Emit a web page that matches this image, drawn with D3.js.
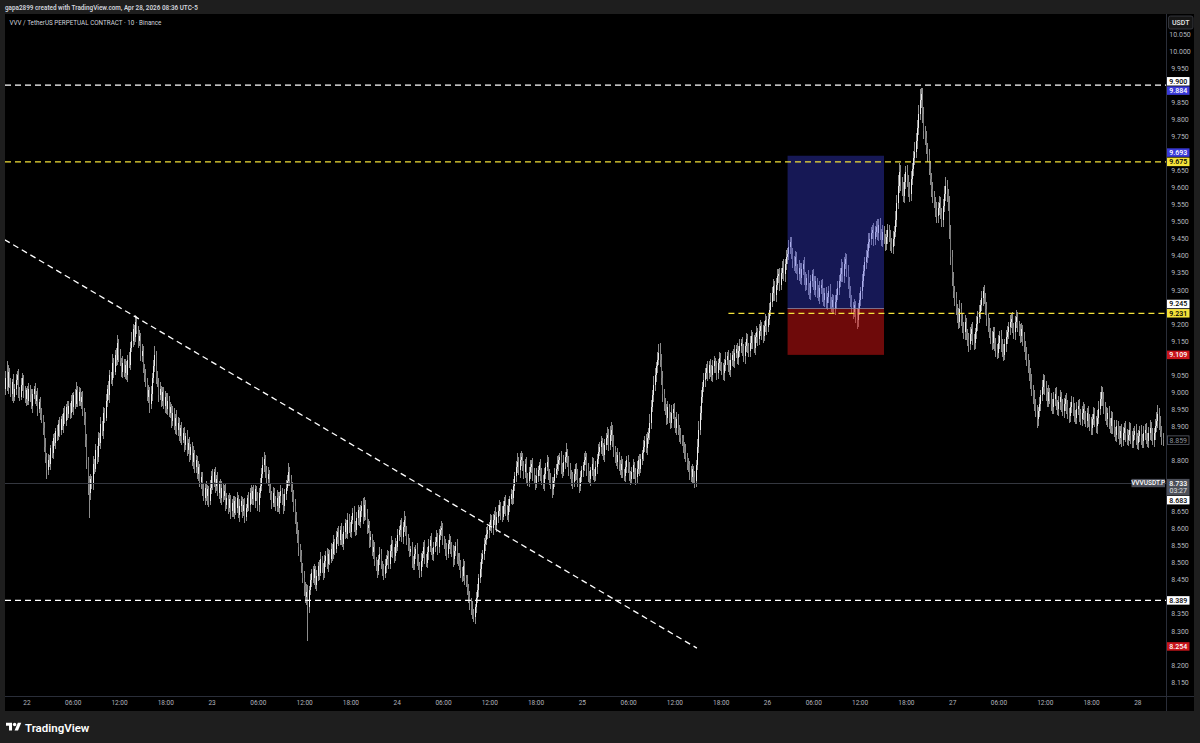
<!DOCTYPE html>
<html><head><meta charset="utf-8">
<script src="https://cdn.jsdelivr.net/npm/d3@7"></script>
<style>
html,body{margin:0;padding:0;background:#1e1e1e;overflow:hidden;}
svg{display:block;}
text{font-family:Roboto,"DejaVu Sans",sans-serif;}
</style></head>
<body>
<svg id="c" width="1200" height="743"></svg>
<script>
// ---------------- DATA ----------------
const symbolTitle = "VVV / TetherUS PERPETUAL CONTRACT · 10 · Binance";
const headerText = "gapa2899 created with TradingView.com, Apr 28, 2026 08:36 UTC-5";
const firstCandleTime = "2026-04-21T21:10:00Z";   // 10-minute candles
const candleMinutes = 10;
const priceBase = 8.000;        // closes: thousandths above this base
const wickTick = 0.0018;        // wick arrays: size in ticks of this amount
const firstOpen = 1000;
const closes = [
1010,1040,1015,1060,1025,995,1030,985,1010,1035,
1050,1005,985,1020,1040,1000,980,1005,975,1010,
990,960,995,1010,975,990,950,970,935,925,
895,840,810,770,800,790,835,820,865,850,
885,870,905,890,920,900,940,915,955,935,
960,940,975,955,990,965,1005,975,1000,970,
985,945,920,860,800,735,705,745,730,790,
775,830,810,865,850,905,885,940,925,975,
1010,990,1050,1035,1085,1060,1110,1095,1145,1110,
1090,1060,1085,1055,1080,1050,1095,1080,1130,1150,
1185,1160,1205,1180,1150,1165,1105,1120,1070,1050,
1030,985,1005,965,995,1040,1075,1110,1045,1030,
990,1010,975,1000,960,985,950,975,940,955,
915,940,900,925,890,910,870,895,860,880,
845,870,830,850,815,840,795,820,780,800,
760,780,735,750,710,690,720,695,715,680,
720,755,735,765,725,745,705,730,690,720,
695,710,670,690,660,685,650,675,645,680,
660,690,640,665,680,650,670,635,660,690,
670,705,685,710,680,715,690,670,705,725,
760,785,805,770,745,760,715,700,675,705,
685,665,690,660,695,710,680,665,700,720,
740,765,745,720,700,665,640,600,580,545,
520,490,455,430,400,415,370,420,450,470,
455,480,435,460,490,470,510,485,470,505,
520,495,525,510,540,525,560,540,575,590,
565,595,570,555,590,615,585,625,605,590,
625,645,610,595,630,655,620,650,665,635,
670,645,600,610,565,575,530,545,505,490,
475,510,525,495,480,465,490,510,520,495,
535,555,530,520,555,545,580,595,610,575,
605,625,590,570,555,530,540,505,495,525,
540,510,490,475,505,525,545,515,500,530,
550,565,535,525,545,560,575,545,580,595,
600,570,555,540,525,555,565,545,530,510,
535,550,515,505,490,475,460,490,455,445,
425,400,385,365,350,340,370,395,420,455,
480,510,525,555,565,585,595,610,625,600,
625,640,610,635,650,670,645,635,665,680,
655,640,665,685,700,690,725,755,780,795,
770,800,810,780,765,790,755,740,765,780,
790,760,745,730,755,770,785,760,745,730,
760,780,795,765,745,730,715,740,760,775,
790,800,810,780,765,795,810,825,795,775,
760,745,735,760,775,755,740,725,750,770,
785,800,810,775,755,745,770,790,765,755,
780,805,825,840,855,830,815,845,865,875,
845,875,890,855,830,810,795,815,785,770,
790,765,755,780,800,775,760,745,765,785,
760,750,775,800,775,805,820,840,855,835,
865,880,910,955,990,1020,1050,1075,1095,1115,
1095,1040,995,965,950,925,955,925,910,940,
950,915,895,920,890,875,865,855,840,825,
810,790,785,765,750,775,750,740,785,840,
890,940,985,1015,1035,1055,1070,1055,1080,1065,
1050,1075,1090,1070,1055,1085,1100,1080,1065,1055,
1080,1095,1105,1080,1065,1095,1110,1090,1115,1125,
1100,1120,1135,1145,1120,1105,1135,1155,1135,1120,
1145,1165,1145,1130,1160,1175,1155,1180,1195,1175,
1165,1195,1210,1190,1215,1240,1265,1290,1310,1285,
1315,1340,1345,1315,1350,1365,1345,1375,1395,1405,
1425,1440,1405,1385,1370,1395,1365,1345,1365,1335,
1360,1375,1335,1315,1335,1305,1290,1325,1345,1320,
1300,1325,1295,1280,1305,1315,1285,1270,1290,1260,
1280,1295,1265,1250,1270,1245,1265,1285,1305,1325,
1345,1365,1340,1375,1390,1355,1325,1295,1265,1250,
1235,1255,1225,1210,1245,1270,1295,1325,1355,1380,
1395,1415,1440,1450,1465,1475,1450,1470,1485,1465,
1490,1465,1445,1470,1450,1435,1455,1475,1455,1435,
1425,1450,1470,1505,1555,1605,1645,1615,1595,1575,
1615,1645,1620,1595,1580,1625,1655,1685,1705,1735,
1775,1815,1855,1875,1815,1765,1745,1715,1695,1655,
1625,1595,1575,1555,1535,1515,1540,1555,1525,1505,
1545,1580,1605,1580,1555,1475,1395,1335,1295,1275,
1245,1225,1205,1245,1215,1190,1175,1205,1170,1155,
1140,1170,1185,1155,1145,1175,1200,1220,1235,1255,
1275,1295,1275,1245,1215,1195,1175,1160,1145,1175,
1140,1125,1115,1145,1165,1140,1120,1110,1140,1160,
1175,1190,1205,1215,1190,1175,1205,1220,1195,1180,
1165,1185,1155,1135,1115,1095,1075,1055,1030,1005,
985,965,945,920,945,965,990,1015,1035,1010,
995,975,1000,980,965,955,980,995,965,950,
970,985,960,945,965,980,955,940,930,955,
970,950,935,925,950,960,935,920,940,950,
925,915,940,920,905,895,920,935,915,900,
925,950,980,1000,980,955,935,920,940,910,
900,925,895,885,875,900,880,865,885,860,
880,895,875,860,875,890,870,855,875,885,
865,850,870,885,865,855,880,890,865,855,
880,895,875,860,880,900,915,935,910,885,
865,859];
const wickUp = [
8,12,28,10,6,9,5,12,7,10, 6,9,5,12,8,6,10,4,7,9, 6,10,8,5,9,7,12,6,8,10,
5,9,14,6,10,8,5,12,7,9, 6,10,8,12,5,9,7,11,6,10, 8,5,9,12,6,10,14,7,9,6,
8,10,5,12,9,6,10,8,5,12, 7,9,6,10,8,12,5,9,7,10, 6,12,8,5,14,9,7,10,12,6,
9,5,11,7,10,6,8,12,9,14, 8,6,12,10,7,9,5,11,8,6, 10,7,9,5,12,8,10,14,6,9,
7,11,5,9,8,10,6,12,7,9, 5,10,8,6,12,9,7,5,10,8, 9,6,11,7,10,5,8,12,6,9,
7,10,5,9,8,12,6,10,7,5, 12,8,10,6,9,7,11,5,8,10, 6,9,12,7,5,10,8,6,11,9,
7,10,5,12,8,6,9,11,7,5, 10,8,12,6,9,7,5,10,8,12, 9,14,10,6,8,11,7,9,5,10,
8,6,12,9,7,10,5,11,8,12, 10,15,8,6,9,7,12,5,10,8, 6,9,5,11,8,12,10,7,9,6,
11,8,6,10,7,9,12,5,8,10, 7,12,9,6,10,8,11,5,9,7, 10,6,12,8,9,7,5,11,10,8,
6,9,12,7,10,8,5,11,9,14, 12,8,6,10,7,9,5,11,8,6, 10,7,12,9,5,8,11,6,10,7,
9,12,6,8,10,5,11,7,9,12, 8,14,6,10,7,9,5,11,8,12, 6,10,9,7,12,5,8,11,6,9,
10,7,12,5,9,8,11,6,10,7, 12,9,5,8,10,6,11,7,9,12, 8,5,10,7,12,9,6,11,8,5,
10,7,9,6,12,8,5,11,9,7, 12,10,6,9,8,11,7,5,10,8, 9,6,12,7,10,8,5,11,9,6,
10,8,12,5,9,7,11,6,10,14, 8,12,9,6,10,7,11,5,8,12, 6,9,10,7,12,8,5,11,9,6,
10,7,12,8,5,9,11,6,10,8, 12,9,6,10,7,11,8,14,5,9, 10,6,12,8,7,9,11,5,10,8,
6,12,9,7,10,8,5,11,9,6, 10,8,12,7,9,6,11,10,8,12, 9,14,12,7,10,6,8,11,5,9,
12,8,6,10,7,9,11,5,8,10, 6,9,12,7,10,8,5,11,9,12, 10,8,14,12,9,15,11,8,12,14,
16,9,12,7,10,8,11,6,9,12, 8,10,6,12,9,7,11,5,10,8, 12,6,9,7,10,8,5,11,9,12,
14,10,12,8,11,9,7,12,6,10, 8,11,9,6,12,7,10,8,5,11, 9,12,7,10,8,11,6,9,12,7,
10,8,11,6,9,12,7,10,8,5, 11,9,6,12,8,10,7,11,9,6, 12,8,10,7,9,11,14,10,12,8,
10,12,9,11,8,10,14,9,12,10, 12,8,8,10,7,11,9,6,12,8, 10,7,11,9,6,12,8,10,7,9,
11,8,6,10,12,7,9,11,8,10, 6,9,12,7,10,8,11,9,12,10, 11,14,9,12,10,8,10,7,9,11,
8,10,6,12,9,11,8,12,10,9, 12,10,14,9,11,8,12,10,9,13, 10,12,8,11,9,7,12,10,8,11,
9,12,10,14,12,18,15,11,9,12, 14,10,12,9,11,13,10,12,15,14, 12,15,18,10,10,12,9,11,8,10,
12,9,11,8,10,12,9,11,10,8, 12,14,15,10,9,11,8,12,10,9, 11,8,12,14,9,10,8,12,7,9,
10,12,8,11,9,7,12,10,11,8, 12,8,10,9,11,8,12,7,10,9, 8,11,9,12,7,10,8,11,9,12,
10,9,12,8,11,7,10,12,9,8, 11,9,7,12,8,10,9,11,8,12, 9,11,8,10,7,12,9,11,10,8,
12,9,11,7,10,8,12,9,11,7, 10,12,8,11,9,7,10,12,8,9, 11,8,10,7,12,9,11,8,10,12,
9,11,7,10,8,12,9,11,10,8, 12,14,11,10,8,12,9,11,7,10, 8,11,9,12,7,10,8,11,9,12,
10,8,11,9,7,12,10,8,11,9, 12,9,11,8,10,7,12,9,11,8, 10,12,9,11,8,12,14,15,10,11,
9,8];
const wickDown = [
7,10,6,12,8,5,11,9,6,10, 8,12,7,5,10,9,6,11,8,7, 10,6,12,8,5,9,11,7,10,8,
12,9,10,14,8,6,11,7,9,5, 10,8,6,12,9,7,11,5,8,10, 6,11,9,7,12,8,5,10,9,6,
11,8,10,12,15,20,42,12,8,10, 9,6,11,8,5,10,7,12,9,6, 10,8,12,7,9,11,6,10,8,12,
7,9,11,6,10,8,12,5,9,7, 10,12,8,6,11,9,7,10,8,12, 9,6,10,14,8,11,7,9,12,8,
10,7,11,9,6,12,8,10,7,9, 11,8,6,12,9,10,7,11,8,6, 12,9,10,7,11,8,6,12,9,10,
8,11,7,10,9,6,12,8,14,9, 7,10,12,8,11,9,6,10,8,12, 9,7,11,8,10,6,12,9,7,10,
11,8,6,12,9,10,7,11,8,6, 10,12,8,9,7,11,6,10,12,8, 9,7,10,12,8,11,6,9,10,7,
12,8,10,6,9,11,7,12,8,10, 6,9,11,8,12,10,15,9,12,14, 10,12,9,15,11,14,55,10,8,12,
9,11,7,10,8,12,6,9,11,8, 10,7,12,9,6,11,8,10,7,12, 9,8,11,6,10,12,7,9,11,8,
10,6,12,9,8,11,7,10,9,12, 8,11,9,7,12,10,6,11,8,9, 12,7,10,8,11,9,6,12,10,8,
7,11,9,12,8,10,6,9,11,8, 12,9,7,10,11,8,6,12,9,10, 8,11,7,12,9,10,6,11,8,9,
12,10,7,9,11,8,6,12,10,7, 9,11,8,12,10,6,9,11,7,12, 10,8,11,9,7,12,10,8,11,9,
12,10,14,11,9,8,12,10,7,11, 9,12,8,10,11,7,9,12,10,8, 11,9,7,12,10,8,11,9,6,12,
10,8,11,9,7,12,10,8,11,9, 8,12,10,7,11,9,12,8,10,11, 9,12,8,10,7,11,9,12,10,8,
11,9,7,12,10,8,14,9,11,7, 10,12,8,11,9,7,12,10,8,11, 9,12,10,8,11,7,10,12,9,8,
11,9,7,12,10,8,11,9,12,10, 8,11,9,7,12,10,8,11,9,12, 10,8,11,9,12,10,7,11,9,8,
12,10,8,11,9,7,12,10,8,11, 9,12,10,8,11,7,10,12,9,8, 11,9,12,10,8,11,9,12,10,8,
12,10,14,11,9,12,10,8,11,9, 10,12,8,11,9,12,10,8,11,12, 9,11,10,12,8,11,9,12,10,8,
11,9,12,10,8,11,9,12,10,11, 9,12,10,8,11,9,12,10,8,11, 12,10,9,11,8,12,10,9,11,8,
10,12,9,11,8,10,12,9,11,10, 9,11,10,8,12,9,11,10,8,12, 11,9,10,12,8,11,10,9,12,10,
11,9,12,10,8,11,10,12,9,11, 10,12,9,11,8,12,10,9,11,10, 12,9,11,10,8,12,9,11,10,12,
9,11,10,8,12,9,11,10,12,9, 11,10,12,9,11,8,10,12,9,11, 10,12,9,11,8,10,12,11,9,12,
11,9,12,14,10,11,9,12,10,8, 11,9,12,10,11,9,12,10,8,11, 12,10,9,11,8,12,10,11,9,12,
10,11,12,9,11,10,12,14,11,10, 12,11,10,13,12,11,10,12,11,10, 12,11,10,13,14,12,11,10,12,11,
10,12,11,9,12,10,11,12,10,11, 12,10,11,12,14,15,12,14,11,12, 10,12,11,9,12,10,11,12,10,11,
12,10,11,9,12,10,11,12,10,11, 9,12,10,11,12,10,9,11,12,10, 11,12,10,9,11,12,10,11,9,12,
10,11,12,9,10,11,12,10,11,9, 12,10,11,9,12,11,10,12,11,10, 11,12,10,14,11,10,12,9,11,10,
12,10,11,9,12,10,11,12,10,9, 11,12,10,9,11,12,10,11,12,10, 9,11,12,10,11,9,12,10,11,12,
10,9,11,12,10,11,12,9,10,11, 12,10,9,11,12,10,11,9,12,10, 11,12,10,9,11,12,10,11,9,12,
10,11,12,9,10,11,12,10,11,9, 12,10,11,9,12,10,11,12,10,9, 11,12,10,9,11,12,10,11,12,10,
11,9];

const priceTicks = [10.05,10.00,9.95,9.90,9.85,9.80,9.75,9.70,9.65,9.60,9.55,9.50,9.45,9.40,9.35,9.30,9.25,9.20,9.15,9.10,9.05,9.00,8.95,8.90,8.85,8.80,8.75,8.70,8.65,8.60,8.55,8.50,8.45,8.40,8.35,8.30,8.25,8.20,8.15];
const timeTickTimes = ["2026-04-22T00:00Z","2026-04-22T06:00Z","2026-04-22T12:00Z","2026-04-22T18:00Z",
"2026-04-23T00:00Z","2026-04-23T06:00Z","2026-04-23T12:00Z","2026-04-23T18:00Z",
"2026-04-24T00:00Z","2026-04-24T06:00Z","2026-04-24T12:00Z","2026-04-24T18:00Z",
"2026-04-25T00:00Z","2026-04-25T06:00Z","2026-04-25T12:00Z","2026-04-25T18:00Z",
"2026-04-26T00:00Z","2026-04-26T06:00Z","2026-04-26T12:00Z","2026-04-26T18:00Z",
"2026-04-27T00:00Z","2026-04-27T06:00Z","2026-04-27T12:00Z","2026-04-27T18:00Z",
"2026-04-28T00:00Z"];
const timeTickLabels = ["22","06:00","12:00","18:00","23","06:00","12:00","18:00","24","06:00","12:00","18:00","25","06:00","12:00","18:00","26","06:00","12:00","18:00","27","06:00","12:00","18:00","28"];

// horizontal drawings
const hLinePrices = [9.900, 9.675, 9.231, 8.389];
const hLineKinds  = ["white","yellow","yellow","white"];
const hLineStarts = [null, null, "2026-04-25T19:00Z", null];
// trend line
const trendTimes  = ["2026-04-21T21:10Z","2026-04-25T14:55Z"];
const trendPrices = [9.447, 8.249];
// long position tool
const posTimes = ["2026-04-26T02:40Z","2026-04-26T15:10Z"];
const posEntry = 9.245, posTarget = 9.693, posStop = 9.109;
// price-scale labels
const labelValues = [9.900, 9.884, 9.693, 9.675, 9.245, 9.231, 9.109, 8.683, 8.389, 8.254];
const labelKinds  = ["white","blue","blue","yellow","white","yellow","red","white","white","red"];
const lastPrice = 8.733, countdown = "03:27", tickerName = "VVVUSDT.P", currency = "USDT";

// ---------------- STYLES ----------------
const kindStyle = {
  white:{fill:"#ffffff", text:"#000000", line:"#ffffff"},
  yellow:{fill:"#f4e23a", text:"#000000", line:"#f4e23a"},
  blue:{fill:"#3a3ad8", text:"#ffffff"},
  red:{fill:"#c8151b", text:"#ffffff"}
};
const WICK = "#8c8c8c", UPBODY = "#eeeeee", DOWNBODY = "#7a7a7a";
const axisText = "#b2b5be";

// ---------------- DRAW ----------------
const svg = d3.select("#c");
svg.append("rect").attr("width",1200).attr("height",743).attr("fill","#1e1e1e");
svg.append("rect").attr("x",5).attr("y",14).attr("width",1189).attr("height",697).attr("fill","#000");

const PL = 5, PR = 1166, PT = 14, PB = 696;
const x = d3.scaleUtc()
  .domain([new Date("2026-04-22T00:00Z"), new Date("2026-04-28T00:00Z")])
  .range([26.4, 1137.3]);
const y = d3.scaleLinear().domain([8.15, 10.05]).range([681.9, 34]);

svg.append("defs").append("clipPath").attr("id","plotclip")
  .append("rect").attr("x",PL).attr("y",PT).attr("width",PR-PL).attr("height",PB-PT);
const plot = svg.append("g").attr("clip-path","url(#plotclip)");

// candles
const t0 = new Date(firstCandleTime).getTime();
const candles = closes.map((c,i)=>{
  const o = i===0 ? firstOpen : closes[i-1];
  const oP = priceBase + o/1000, cP = priceBase + c/1000;
  return {
    t: new Date(t0 + i*candleMinutes*60000),
    o: oP, c: cP,
    h: Math.max(oP,cP) + wickUp[i]*wickTick,
    l: Math.min(oP,cP) - wickDown[i]*wickTick
  };
});
const cg = plot.append("g").attr("shape-rendering","crispEdges");
cg.selectAll("rect.w").data(candles).join("rect").attr("class","w")
  .attr("x",d=>Math.floor(x(d.t)))
  .attr("width",1)
  .attr("y",d=>y(d.h))
  .attr("height",d=>Math.max(1,y(d.l)-y(d.h)))
  .attr("fill",WICK);
cg.selectAll("rect.b").data(candles).join("rect").attr("class","b")
  .attr("x",d=>Math.floor(x(d.t)))
  .attr("width",1)
  .attr("y",d=>y(Math.max(d.o,d.c)))
  .attr("height",d=>Math.max(1,Math.abs(y(d.o)-y(d.c))))
  .attr("fill",d=>d.c>=d.o?UPBODY:DOWNBODY);

// position tool
const px0 = x(new Date(posTimes[0])), px1 = x(new Date(posTimes[1]));
plot.append("rect").attr("x",px0).attr("width",px1-px0)
  .attr("y",y(posTarget)).attr("height",y(posEntry)-y(posTarget))
  .attr("fill","rgb(60,66,235)").attr("fill-opacity",0.36);
plot.append("rect").attr("x",px0).attr("width",px1-px0)
  .attr("y",y(posEntry)).attr("height",y(posStop)-y(posEntry))
  .attr("fill","rgb(220,20,20)").attr("fill-opacity",0.5);
plot.append("line").attr("x1",px0).attr("x2",px1).attr("y1",y(posEntry)).attr("y2",y(posEntry))
  .attr("stroke","#8a8aa6").attr("stroke-width",0.8);

// last price line
plot.append("line").attr("x1",PL).attr("x2",PR).attr("y1",Math.round(y(lastPrice))+0.5).attr("y2",Math.round(y(lastPrice))+0.5)
  .attr("stroke","#34373f").attr("stroke-width",1);

// horizontal dashed lines
hLinePrices.forEach((p,i)=>{
  const xs = hLineStarts[i] ? x(new Date(hLineStarts[i])) : PL;
  plot.append("line").attr("x1",xs).attr("x2",PR).attr("y1",y(p)).attr("y2",y(p))
    .attr("stroke",kindStyle[hLineKinds[i]].line).attr("stroke-width",1.3)
    .attr("stroke-dasharray","6,4");
});
// trend line
plot.append("line")
  .attr("x1",x(new Date(trendTimes[0]))).attr("y1",y(trendPrices[0]))
  .attr("x2",x(new Date(trendTimes[1]))).attr("y2",y(trendPrices[1]))
  .attr("stroke","#ffffff").attr("stroke-width",1.3).attr("stroke-dasharray","6,4");

// axes separators
svg.append("line").attr("x1",PR+0.5).attr("x2",PR+0.5).attr("y1",PT).attr("y2",711).attr("stroke","#2a2e39");
svg.append("line").attr("x1",PL).attr("x2",1194).attr("y1",PB+0.5).attr("y2",PB+0.5).attr("stroke","#2a2e39");

// price labels positions with collision avoidance (push upper label up)
const LH = 8.5;
const labs = labelValues.map((v,i)=>({v, kind:labelKinds[i], cy:y(v)}));
const curTop = y(lastPrice)-4.2, curBot = curTop+16.5;
labs.sort((a,b)=>b.cy-a.cy);
for(let i=1;i<labs.length;i++){
  const below = labs[i-1];
  if(below.cy - labs[i].cy < LH+0.8) labs[i].cy = below.cy - (LH+0.8);
}
labs.forEach(l=>{ if(l.cy-LH/2 < curBot && l.cy > y(lastPrice)) l.cy = curBot + LH/2 + 0.5; });

// price ticks (skip those hidden under labels)
const lastClose = priceBase + closes[closes.length-1]/1000;
const occupied = labs.map(l=>l.cy).concat([y(lastPrice), y(lastPrice)+8, y(lastClose)]);
const axisG = svg.append("g").attr("transform",`translate(${PR},0)`);
const yAxis = d3.axisRight(y).tickValues(priceTicks.filter(p=>occupied.every(o=>Math.abs(o-y(p))>6.5)))
  .tickFormat(d3.format(".3f")).tickSize(0).tickPadding(0);
axisG.call(yAxis);
axisG.select(".domain").remove();
axisG.selectAll("text").attr("x",14).attr("text-anchor","middle").attr("fill",axisText)
  .attr("font-size",7).attr("font-family","Roboto,sans-serif");

// time axis
const xAxisG = svg.append("g").attr("transform",`translate(0,${PB})`);
xAxisG.call(d3.axisBottom(x).tickValues(timeTickTimes.map(s=>new Date(s)))
  .tickFormat((d,i)=>timeTickLabels[i]).tickSize(0).tickPadding(0));
xAxisG.select(".domain").remove();
xAxisG.selectAll("text").attr("y",4).attr("fill",axisText).attr("font-size",6.5).attr("font-family","Roboto,sans-serif");

// labels
const LX = 1167, LW = 22.5;
labs.forEach(l=>{
  const s = kindStyle[l.kind];
  svg.append("rect").attr("x",LX).attr("y",l.cy-LH/2).attr("width",LW).attr("height",LH).attr("fill",s.fill);
  svg.append("text").attr("x",LX+LW/2).attr("y",l.cy+2.5).attr("text-anchor","middle")
    .attr("font-size",7).attr("font-weight",500).attr("fill",s.text).text(d3.format(".3f")(l.v));
});
// last visible close box (outlined)
const lcy = y(lastClose);
svg.append("rect").attr("x",LX+0.5).attr("y",lcy-LH/2).attr("width",LW-1).attr("height",LH)
  .attr("fill","#000").attr("stroke","#5d606b").attr("stroke-width",0.8);
svg.append("text").attr("x",LX+LW/2).attr("y",lcy+2.5).attr("text-anchor","middle")
  .attr("font-size",7).attr("fill","#8d909a").text(d3.format(".3f")(lastClose));
// current price block
svg.append("rect").attr("x",LX).attr("y",curTop).attr("width",LW).attr("height",curBot-curTop).attr("fill","#4c4f59");
svg.append("text").attr("x",LX+LW/2).attr("y",curTop+6.8).attr("text-anchor","middle").attr("font-size",7).attr("font-weight",500).attr("fill","#fff").text(d3.format(".3f")(lastPrice));
svg.append("text").attr("x",LX+LW/2).attr("y",curTop+14.5).attr("text-anchor","middle").attr("font-size",7).attr("fill","#e0e0e0").text(countdown);
svg.append("rect").attr("x",1131.5).attr("y",curTop).attr("width",33.5).attr("height",8.3).attr("fill","#4c4f59");
svg.append("text").attr("x",1148.2).attr("y",curTop+6.6).attr("text-anchor","middle").attr("font-size",6.5).attr("font-weight",500).attr("fill","#fff").text(tickerName);

// currency box
svg.append("rect").attr("x",1168.5).attr("y",16).attr("width",24.5).attr("height",13).attr("rx",2)
  .attr("fill","#161616").attr("stroke","#3c3f48").attr("stroke-width",0.8);
svg.append("text").attr("x",1180.7).attr("y",25).attr("text-anchor","middle").attr("font-size",7).attr("font-weight",500).attr("fill","#e6e6e6").text(currency);

// header texts
svg.append("text").attr("x",5).attr("y",9.6).attr("font-size",6.35).attr("font-weight",600).attr("fill","#d1d4dc").text(headerText);
svg.append("text").attr("x",9.5).attr("y",25).attr("font-size",6.3).attr("fill","#d1d4dc").text(symbolTitle);

// TradingView logo
const logo = svg.append("g").attr("transform","translate(6,721) scale(0.43)").attr("fill","#ffffff");
logo.append("path").attr("d","M14 22H7V11H0V4h14v18z");
logo.append("circle").attr("cx",20).attr("cy",8).attr("r",4);
logo.append("path").attr("d","M28 22h-8l7.5-18h8L28 22z");
svg.append("text").attr("x",25).attr("y",731.5).attr("font-size",11.5).attr("font-weight",600).attr("fill","#ffffff").text("TradingView");
</script>
</body></html>
